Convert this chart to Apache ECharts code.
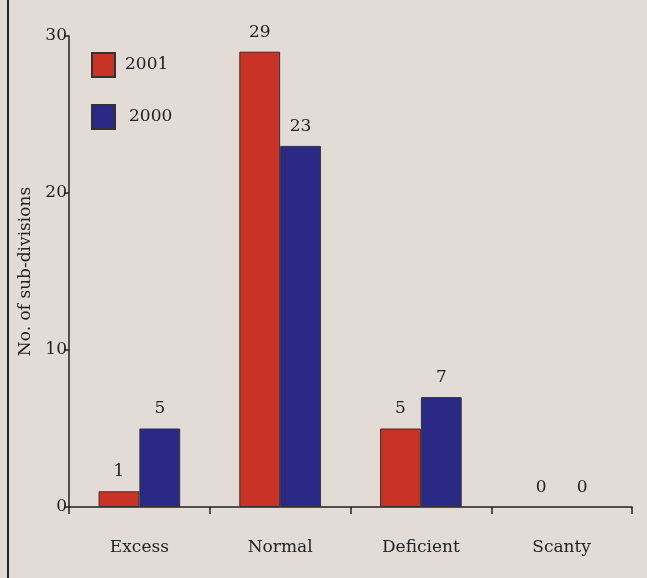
<!DOCTYPE html>
<html>
<head>
<meta charset="utf-8">
<script src="https://cdn.jsdelivr.net/npm/echarts@6/dist/echarts.min.js"></script>
<style>
  html, body { margin: 0; padding: 0; background: #e3dbd6; }
  #chart { width: 647px; height: 578px; }
</style>
</head>
<body>
<div id="chart"></div>
<script>
  // categories and values
  const categories = ['Excess', 'Normal', 'Deficient', 'Scanty'];
  const values2001 = [1, 29, 5, 0];
  const values2000 = [5, 23, 7, 0];
  const yTicks = [0, 10, 20, 30];

  const serif = 'DejaVu Serif';
  const chart = echarts.init(document.getElementById('chart'));

  const barLabel = {
    show: true,
    position: 'top',
    distance: 11,
    color: '#222',
    fontFamily: serif,
    fontSize: 17
  };

  // no outline for empty bars
  const toItems = arr => arr.map(v => v === 0 ? { value: v, itemStyle: { borderWidth: 0 } } : v);

  chart.setOption({
    backgroundColor: '#e3dbd6',
    animation: false,
    grid: { left: 69, right: 15, top: 36, bottom: 71 },
    legend: {
      orient: 'vertical',
      left: 86,
      top: 47,
      itemWidth: 23,
      itemHeight: 24,
      itemGap: 26,
      icon: 'rect',
      textStyle: { fontFamily: serif, fontSize: 17, color: '#222', padding: [0, 0, 0, 5] },
      data: [
        { name: '2001' },
        { name: '2000', textStyle: { padding: [0, 0, 0, 9] } }
      ]
    },
    xAxis: {
      type: 'category',
      data: categories,
      axisLine: { lineStyle: { color: '#222', width: 1.5 } },
      axisTick: { show: true, length: 7, lineStyle: { color: '#222', width: 1.5 } },
      axisLabel: { margin: 32, fontFamily: serif, fontSize: 17, color: '#222' }
    },
    yAxis: {
      type: 'value',
      min: yTicks[0],
      max: yTicks[yTicks.length - 1],
      interval: 10,
      name: 'No. of sub-divisions',
      nameLocation: 'middle',
      nameGap: 31,
      nameTextStyle: { fontFamily: serif, fontSize: 17, color: '#222' },
      axisLine: { show: true, lineStyle: { color: '#222', width: 1.5 } },
      axisTick: { show: true, length: 5, lineStyle: { color: '#222', width: 1.5 } },
      axisLabel: { margin: 2, fontFamily: serif, fontSize: 17, color: '#222' },
      splitLine: { show: false }
    },
    series: [
      {
        name: '2001',
        type: 'bar',
        data: toItems(values2001),
        barWidth: '29%',
        barGap: '0%',
        itemStyle: { color: '#c93227', borderColor: '#333', borderWidth: 1 },
        label: barLabel
      },
      {
        name: '2000',
        type: 'bar',
        data: toItems(values2000),
        barWidth: '29%',
        itemStyle: { color: '#2a2a86', borderColor: '#333', borderWidth: 1 },
        label: barLabel
      }
    ],
    graphic: [
      {
        type: 'line',
        shape: { x1: 8, y1: 0, x2: 8, y2: 578 },
        style: { stroke: '#222', lineWidth: 2 }
      }
    ]
  });
</script>
</body>
</html>
